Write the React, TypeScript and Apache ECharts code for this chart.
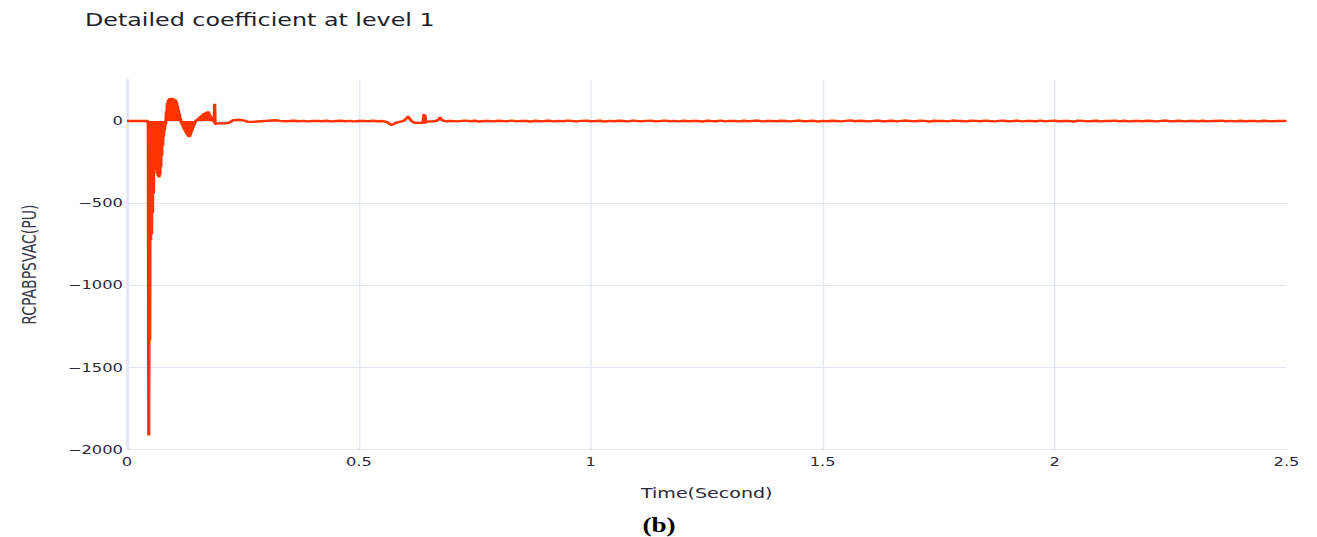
import React, { useEffect, useRef } from "react";
import * as echarts from "echarts";

// ---------- data ----------
const chartTitle = "Detailed coefficient at level 1";
const xAxisTitle = "Time(Second)";
const yAxisTitle = "RCPABPSVAC(PU)";
const caption = "(b)";

const xTicks = [0, 0.5, 1, 1.5, 2, 2.5];
const yTicks = [-2000, -1500, -1000, -500, 0];

// quiet lead-in before the disturbance
const leadTimes = [0, 0.02, 0.04];
const leadValues = [0, 0, 0];

// dense oscillation, sampled every 1 ms from 0.045 s
const earlyStart = 0.045;
const earlyStep = 0.001;
const earlyValues = [
  0, -30, -1915, -20, -1335, 0, -725, -10, -690, 0,
  -560, -15, -440, 0, -300, -20, -285, 0, -300, -10,
  -320, 0, -335, -15, -343, 0, -330, -10, -280, 0,
  -210, -5, -150, 0, -95, 0, -55, 0, -20, 2,
  60, 5, 110, 0, 128, 5, 136, 0, 140, 4,
  141, 0, 142, 5, 139, 0, 136, 4, 133, 0,
  130, 5, 118, 0, 95, 4, 70, 0, 45, 2,
  20, 0, -12, 0, -25, -2, -38, 0, -50, -3,
  -60, 0, -70, -2, -80, 0, -88, -3, -95, 0,
  -99, -2, -86, 0, -70, -3, -55, 0, -40, -2,
  -25, 0, -10, 0, 5, 0, 10, 2, 15, 0,
  20, 3, 25, 0, 30, 2, 35, 0, 40, 3,
  45, 0, 48, 2, 51, 0, 55, 3, 58, 0,
  59, 2, 50, 0, 36, 2, 25, 0, 15, 0,
  8, -3, 2, -6, 105, -18,
];

// settling part, every 10 ms from 0.20 s to 0.55 s
const midStart = 0.2;
const midStep = 0.01;
const midValues = [
  -13, -14, -10, 6, 8, 5, -4, -5, -3, -1,
  1, 3, 5, 1, -1, 0, 2, -1, 1, -2,
  0, 1, -1, 2, -2, 0, 2, -1, 1, -2,
  0, 1, -1, 2, -1, 0,
];

// small disturbance around 0.6 s
const eventTimes = [
  0.555, 0.562, 0.568, 0.572, 0.578, 0.585, 0.592, 0.598, 0.603, 0.606,
  0.609, 0.613, 0.618, 0.625, 0.632, 0.638, 0.6405, 0.6415, 0.6425, 0.644,
  0.65, 0.66, 0.668, 0.672, 0.675, 0.678, 0.684, 0.69, 0.695,
];
const eventValues = [
  -2, -8, -20, -24, -12, -6, -2, 4, 18, 28,
  15, 2, -9, -12, -11, -10, 42, -16, 35, -6,
  -3, -1, 2, 10, 24, 8, 1, -1, 0,
];

// steady state, every 10 ms from 0.70 s to 2.50 s
const lateStart = 0.7;
const lateStep = 0.01;
const lateValues = [
  1, -2, 0, 3, -1, 2, -3, 0, 1, -2,
  2, 0, -1, 3, -2, 1, 0, -3, 2, -1,
  0, 2, -2, 1, -1, 3, 0, -2, 1, 2,
  -1, 0, 2, -3, 1, -1, 2, 0, -2, 3,
  0, -1, 1, 2, -2, 0, 3, -1, 1, -2,
  2, -1, 0, 1, -3, 2, 0, -1, 3, -2,
  1, 0, -2, 2, -1, 1, 3, -2, 0, 1,
  -1, 2, 0, -2, 1, 3, -1, 0, 2, -3,
  1, -1, 2, 0, -2, 1, 4, -1, 2, 0,
  -2, 1, 3, -1, 0, 2, -2, 1, 3, 0,
  -1, 2, 1, -3, 2, 0, 1, -2, 3, 1,
  0, -2, 2, 1, -1, 3, 0, -2, 1, 2,
  -1, 0, 2, -2, 1, 0, -1, 3, -2, 1,
  2, -1, 0, 1, -3, 2, 1, -1, 0, 2,
  -2, 1, 0, 3, -1, 2, -2, 0, 1, -1,
  2, 0, -2, 1, 3, -1, 0, 2, -2, 1,
  0, -1, 2, -2, 1, 0, 3, -1, 1, -2,
  2, -1, 0, 1, -2, 2, 0, -1, 1, 0,
  1,
];

// ---------- build series ----------
const r = (v: number) => Math.round(v * 10000) / 10000;
const seriesData: [number, number][] = [];
leadTimes.forEach((t, i) => seriesData.push([t, leadValues[i]]));
earlyValues.forEach((v, i) => seriesData.push([r(earlyStart + i * earlyStep), v]));
midValues.forEach((v, i) => seriesData.push([r(midStart + i * midStep), v]));
eventTimes.forEach((t, i) => seriesData.push([t, eventValues[i]]));
lateValues.forEach((v, i) => seriesData.push([r(lateStart + i * lateStep), v]));

// ---------- layout ----------
const W = 1317;
const H = 537;
const SX = 1.36; // reference picture is stretched horizontally
const innerW = W / SX;

const FONT = "DejaVu Sans, Verdana, sans-serif";
const GRID = "#e1e7f2";
const LINE = "#ff3300";
const TXT = "#2a2a3a";

export default function App() {
  const ref = useRef<HTMLDivElement>(null);

  useEffect(() => {
    if (!ref.current) return;
    const chart = echarts.init(ref.current, null, { renderer: "svg" });
    chart.setOption({
      animation: false,
      backgroundColor: "#ffffff",
      grid: { left: 127 / SX, right: innerW - 1287 / SX, top: 80, bottom: H - 449.5 },
      xAxis: {
        type: "value",
        min: xTicks[0],
        max: xTicks[xTicks.length - 1],
        interval: 0.5,
        name: xAxisTitle,
        nameLocation: "middle",
        nameGap: 36,
        nameTextStyle: { fontFamily: FONT, fontSize: 14, color: TXT },
        axisLine: { show: false },
        axisTick: { show: false },
        axisLabel: { margin: 6, fontFamily: FONT, fontSize: 12, color: TXT },
        splitLine: { show: true, showMaxLine: false, lineStyle: { color: GRID, width: 1 } },
      },
      yAxis: {
        type: "value",
        min: yTicks[0],
        max: 250,
        interval: 500,
        name: yAxisTitle,
        nameLocation: "middle",
        nameGap: 65,
        nameTextStyle: { fontFamily: FONT, fontSize: 14, color: "#3a3a48" },
        axisLine: { show: true, onZero: false, lineStyle: { color: GRID, width: 2 } },
        axisTick: { show: false },
        axisLabel: {
          margin: 3,
          fontFamily: FONT,
          fontSize: 12,
          color: TXT,
          showMaxLabel: false,
          formatter: (v: number) => (yTicks.includes(v) ? String(v).replace("-", "\u2212") : ""),
        },
        splitLine: { show: true, showMaxLine: false, lineStyle: { color: GRID, width: 1 } },
      },
      series: [
        {
          type: "line",
          data: seriesData,
          symbol: "none",
          showSymbol: false,
          lineStyle: { color: LINE, width: 2.4 },
          itemStyle: { color: LINE },
          z: 3,
        },
      ],
      graphic: [
        {
          type: "text",
          left: 85 / SX,
          top: 11,
          style: { text: chartTitle, font: `17.5px ${FONT}`, fill: "#1e1e28" },
        },
        {
          type: "text",
          x: 659 / SX,
          y: 525,
          style: {
            text: caption,
            font: "bold 20px 'Liberation Serif', 'Times New Roman', serif",
            fill: "#000000",
            textAlign: "center",
            textVerticalAlign: "middle",
          },
        },
      ],
    });
    return () => chart.dispose();
  }, []);

  return (
    <div style={{ position: "absolute", left: 0, top: 0, width: W, height: H, overflow: "hidden", background: "#fff" }}>
      <div
        ref={ref}
        style={{ width: innerW, height: H, transform: `scaleX(${SX})`, transformOrigin: "0 0" }}
      />
    </div>
  );
}
